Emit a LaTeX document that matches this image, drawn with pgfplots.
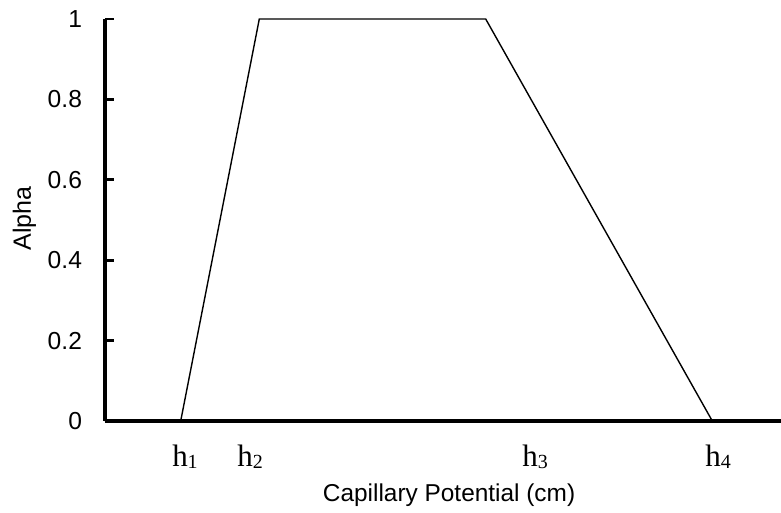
\documentclass[border=0pt]{standalone}
\usepackage{fontspec}
\setmainfont{Liberation Serif}
\setsansfont{Liberation Sans}
\usepackage{pgfplots}
\pgfplotsset{compat=1.18}
\newcommand\hl[1]{h\raisebox{-1pt}{\fontsize{10}{10}\selectfont #1}}
\begin{document}
\begin{tikzpicture}
\begin{axis}[
  scale only axis, width=338pt, height=201pt,
  xmin=0, xmax=676, ymin=0, ymax=1,
  axis x line=bottom, axis y line=left,
  axis line style={-, line width=1.6pt},
  clip=false,
  ytick={0,0.2,0.4,0.6,0.8,1},
  yticklabels={0,0.2,0.4,0.6,0.8,1},
  tick align=inside,
  major tick length=4.5pt,
  ytick style={line width=1.4pt, black},
  yticklabel style={font=\sffamily\fontsize{12.3}{14}\selectfont, anchor=east, xshift=-8pt},
  xtick={80,145,430,613},
  xticklabels={\hl{1},\hl{2},\hl{3},\hl{4}},
  xtick style={draw=none},
  xticklabel style={font=\rmfamily\fontsize{15.5}{17}\selectfont, anchor=base, yshift=-23pt},
  xlabel={Capillary Potential (cm)},
  xlabel style={font=\sffamily\fontsize{12.2}{14}\selectfont, at={(axis description cs:0.509,0)}, anchor=base, yshift=-40.5pt},
  ylabel={Alpha},
  ylabel style={font=\sffamily\fontsize{12.5}{14}\selectfont, at={([xshift=-37pt]axis description cs:0,0.504)}, anchor=base},
]
\addplot[black, line width=0.7pt] coordinates {(0,0) (75.7,0) (154.3,1) (380.7,1) (607.3,0) (676,0)};
\end{axis}
\pgfresetboundingbox
\path[use as bounding box] (-52.5pt,-46pt) rectangle (338pt,210.5pt);
\end{tikzpicture}
\end{document}
